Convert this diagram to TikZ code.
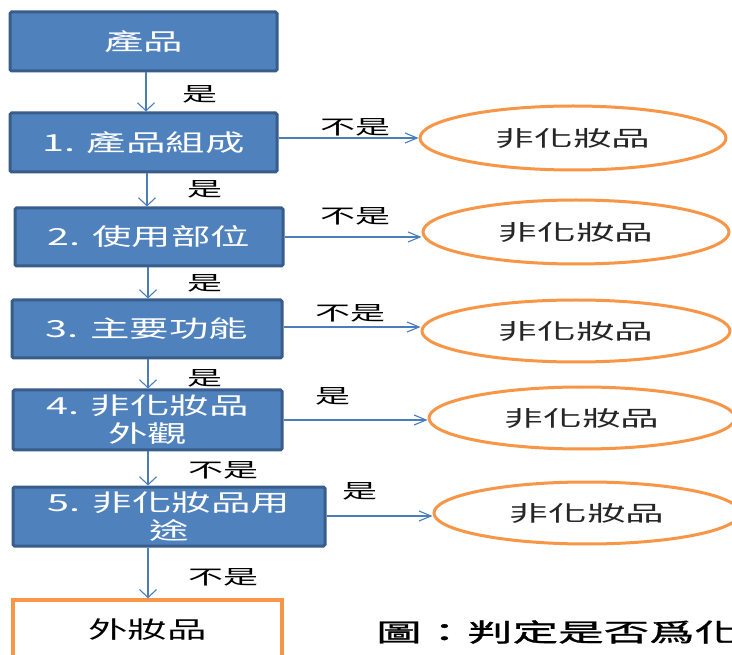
\documentclass[tikz,border=0pt]{standalone}
\usepackage{fontspec}
\setmainfont{Noto Sans CJK TC}
\newfontfamily\boxfont[FakeStretch=1.68]{Noto Sans CJK TC}
\newfontfamily\lblfont[FakeStretch=1.75]{Noto Sans CJK TC}
\newfontfamily\ellfont[FakeStretch=1.8]{Noto Sans CJK TC}
\newfontfamily\capfont[FakeStretch=1.82,FakeBold=1.2]{Noto Sans CJK TC}
\usetikzlibrary{arrows.meta,shapes.geometric}
\definecolor{boxblue}{HTML}{4F81BD}
\definecolor{boxedge}{HTML}{385D8A}
\definecolor{ellorange}{HTML}{F79646}
\definecolor{arrowblue}{HTML}{4A7EBB}
\tikzset{
  stepbox/.style={rectangle, rounded corners=1.5pt, fill=boxblue, draw=boxedge, line width=3pt,
    text=white, align=center, font=\boxfont\fontsize{23.5}{28}\selectfont, inner sep=0pt},
  endbox/.style={rectangle, fill=white, draw=ellorange, line width=3.5pt,
    text=black, align=center, font=\boxfont\fontsize{23.5}{28}\selectfont, inner sep=0pt},
  outell/.style={ellipse, draw=ellorange, line width=3pt, fill=white, inner sep=0pt,
    text=black!85, font=\ellfont\fontsize{21.5}{25}\selectfont},
  lbl/.style={text=black, font=\lblfont\fontsize{20}{24}\selectfont, inner sep=0pt},
  varrow/.style={draw=arrowblue, line width=1.1pt, -{Straight Barb[length=8pt,width=17pt]}},
  harrow/.style={draw=arrowblue, line width=1.1pt, -{Straight Barb[length=12pt,width=10pt]}},
}
\begin{document}
\begin{tikzpicture}[x=1pt,y=-1pt]
\useasboundingbox (0,0) rectangle (732,655);
\clip (0,0) rectangle (732,655);
\fill[white] (0,0) rectangle (732,655);

% main column
\node[stepbox, minimum width=267pt, minimum height=59pt] (b0) at (143.5,41.5) {產品};
\node[stepbox, minimum width=267pt, minimum height=59pt] (b1) at (143.5,142.5) {1. 產品組成};
\node[stepbox, minimum width=268pt, minimum height=58pt] (b2) at (149,237) {2. 使用部位};
\node[stepbox, minimum width=270pt, minimum height=58pt] (b3) at (147,329) {3. 主要功能};
\node[stepbox, minimum width=269pt, minimum height=60pt] (b4) at (147.5,420) {4. 非化妝品\\外觀};
\node[stepbox, minimum width=312pt, minimum height=59pt] (b5) at (169,516.5) {5. 非化妝品用\\途};
\node[endbox, minimum width=269pt, minimum height=60pt] (fin) at (147.5,630) {外妝品};

% outcome ellipses
\node[outell, minimum width=306pt, minimum height=64pt] (e1) at (573,138) {非化妝品};
\node[outell, minimum width=306pt, minimum height=64pt] (e2) at (576,232) {非化妝品};
\node[outell, minimum width=308pt, minimum height=62pt] (e3) at (576,331) {非化妝品};
\node[outell, minimum width=306pt, minimum height=62pt] (e4) at (582,418) {非化妝品};
\node[outell, minimum width=306pt, minimum height=62pt] (e5) at (587,513) {非化妝品};

% vertical connectors
\draw[varrow] (b0.south -| 146,0) -- (b1.north -| 146,0);
\draw[varrow] (b1.south -| 147,0) -- (b2.north -| 147,0);
\draw[varrow] (b2.south -| 148,0) -- (b3.north -| 148,0);
\draw[varrow] (b3.south -| 148,0) -- (b4.north -| 148,0);
\draw[varrow] (b4.south -| 148,0) -- (b5.north -| 148,0);
\draw[varrow] (b5.south -| 148,0) -- (fin.north -| 148,0);

% horizontal connectors
\draw[harrow] (b1.east |- e1.west) -- (e1.west);
\draw[harrow] (b2.east |- 0,237) -- (e2.west |- 0,237);
\draw[harrow] (b3.east |- 0,327) -- (e3.west |- 0,327);
\draw[harrow] (b4.east |- 0,420) -- (e4.west |- 0,420);
\draw[harrow] (b5.east |- 0,516) -- (e5.west |- 0,516);

% labels
\node[lbl] (l01) at (200,94) {是};
\node[lbl] (l12) at (205,189) {是};
\node[lbl] (l23) at (205,283) {是};
\node[lbl] (l34) at (205,378) {是};
\node[lbl] (l45) at (223,470) {不是};
\node[lbl] (l5f) at (223,577) {不是};
\node[lbl] (h1) at (355,127) {不是};
\node[lbl] (h2) at (355,216) {不是};
\node[lbl] (h3) at (350,313) {不是};
\node[lbl] (h4) at (333,396) {是};
\node[lbl] (h5) at (360,491) {是};

% caption (cut off at right edge)
\node[anchor=west, inner sep=0pt, text=black, font=\capfont\fontsize{25}{30}\selectfont] (cap) at (376,632) {圖：判定是否爲化};
\end{tikzpicture}
\end{document}
